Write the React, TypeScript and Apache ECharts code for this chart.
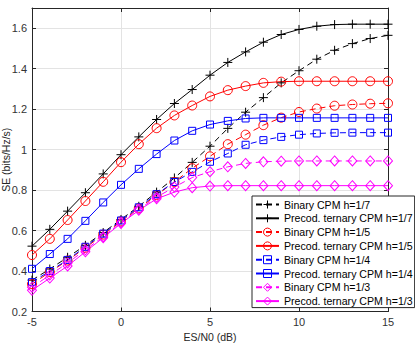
import { useEffect, useRef } from "react";
import * as echarts from "echarts";

// Es/N0 sweep in dB
const snr = [-5, -4, -3, -2, -1, 0, 1, 2, 3, 4, 5, 6, 7, 8, 9, 10, 11, 12, 13, 14, 15];

// Spectral efficiency (bits/Hz/s)
const binary17 = [0.355, 0.41, 0.468, 0.527, 0.59, 0.655, 0.72, 0.79, 0.86, 0.937, 1.017, 1.105, 1.185, 1.257, 1.33, 1.39, 1.447, 1.491, 1.524, 1.549, 1.565];
const precod17 = [0.523, 0.606, 0.696, 0.787, 0.88, 0.975, 1.063, 1.149, 1.228, 1.297, 1.368, 1.431, 1.483, 1.531, 1.569, 1.594, 1.61, 1.618, 1.62, 1.62, 1.62];
const binary15 = [0.335, 0.395, 0.452, 0.515, 0.58, 0.645, 0.71, 0.775, 0.84, 0.908, 0.967, 1.027, 1.074, 1.121, 1.158, 1.186, 1.203, 1.217, 1.223, 1.227, 1.229];
const precod15 = [0.479, 0.559, 0.652, 0.746, 0.841, 0.938, 1.027, 1.106, 1.169, 1.218, 1.263, 1.294, 1.314, 1.33, 1.336, 1.338, 1.338, 1.338, 1.338, 1.338, 1.338];
const binary14 = [0.345, 0.4, 0.455, 0.52, 0.585, 0.65, 0.715, 0.78, 0.84, 0.89, 0.94, 0.981, 1.024, 1.047, 1.063, 1.074, 1.08, 1.083, 1.084, 1.084, 1.084];
const precod14 = [0.411, 0.484, 0.559, 0.648, 0.739, 0.826, 0.905, 0.978, 1.045, 1.093, 1.124, 1.142, 1.154, 1.157, 1.157, 1.157, 1.157, 1.157, 1.157, 1.157, 1.157];
const binary13 = [0.32, 0.38, 0.44, 0.505, 0.57, 0.64, 0.705, 0.765, 0.815, 0.862, 0.891, 0.915, 0.932, 0.94, 0.943, 0.944, 0.944, 0.944, 0.944, 0.944, 0.944];
const precod13 = [0.305, 0.365, 0.425, 0.495, 0.565, 0.635, 0.7, 0.757, 0.79, 0.812, 0.82, 0.822, 0.822, 0.822, 0.822, 0.822, 0.822, 0.822, 0.822, 0.822, 0.822];

const seriesNames = [
  "Binary CPM h=1/7",
  "Precod. ternary CPM h=1/7",
  "Binary CPM h=1/5",
  "Precod. ternary CPM h=1/5",
  "Binary CPM h=1/4",
  "Precod. ternary CPM h=1/4",
  "Binary CPM h=1/3",
  "Precod. ternary CPM h=1/3",
];

const FONT = "'Liberation Sans', Arial, sans-serif";
const PLUS = "path://M5,0L5,10M0,5L10,5";

function makeSeries(name: string, ys: number[], color: string, symbol: string, size: number | number[], dashed: boolean) {
  return {
    name,
    type: "line",
    data: snr.map((x, i) => [x, ys[i]]),
    symbol,
    symbolSize: size,
    showAllSymbol: true,
    lineStyle: { color, width: 1, type: dashed ? [6, 4] : "solid" },
    itemStyle: { color: "transparent", borderColor: color, borderWidth: 1 },
    emphasis: { disabled: true },
  };
}

export default function App() {
  const ref = useRef<HTMLDivElement>(null);

  useEffect(() => {
    document.body.style.margin = "0";
    const chart = echarts.init(ref.current!, undefined, { renderer: "svg" });
    const axisColor = "#262626";
    const gridColor = "#e3e3e3";
    chart.setOption({
      animation: false,
      backgroundColor: "#ffffff",
      textStyle: { fontFamily: FONT },
      grid: {
        left: 32,
        right: 27,
        top: 8,
        bottom: 33.5,
        show: false,
        containLabel: false,
        outerBoundsMode: "none",
      },
      xAxis: [
        {
          type: "value",
          min: -5,
          max: 15,
          interval: 5,
          name: "ES/N0 (dB)",
          nameLocation: "middle",
          nameGap: 20,
          nameMoveOverlap: false,
          nameTextStyle: { fontSize: 10.5, color: "#262626", fontFamily: FONT },
          axisLine: { show: true, lineStyle: { color: axisColor, width: 1 } },
          axisTick: { show: true, inside: true, length: 4, lineStyle: { color: axisColor } },
          axisLabel: { fontSize: 11, color: "#333", margin: 5, fontFamily: FONT },
          splitLine: { show: true, lineStyle: { color: gridColor, width: 1 } },
        },
        {
          type: "value",
          position: "top",
          min: -5,
          max: 15,
          interval: 5,
          axisLine: { show: true, onZero: false, lineStyle: { color: axisColor, width: 1 } },
          axisTick: { show: true, inside: true, length: 4, lineStyle: { color: axisColor } },
          axisLabel: { show: false },
          splitLine: { show: false },
        },
      ],
      yAxis: [
        {
          type: "value",
          min: 0.2,
          max: 1.7,
          interval: 0.2,
          name: "SE (bits/Hz/s)",
          nameLocation: "middle",
          nameGap: 21,
          nameMoveOverlap: false,
          nameTextStyle: { fontSize: 10.5, color: "#262626", fontFamily: FONT },
          axisLine: { show: true, onZero: false, lineStyle: { color: axisColor, width: 1 } },
          axisTick: { show: true, inside: true, length: 4, lineStyle: { color: axisColor } },
          axisLabel: {
            fontSize: 11,
            color: "#333",
            margin: 5,
            fontFamily: FONT,
            formatter: (v: number) => (Math.abs(v - 1.7) < 1e-6 ? "" : String(Math.round(v * 10) / 10)),
          },
          splitLine: { show: true, lineStyle: { color: gridColor, width: 1 } },
        },
        {
          type: "value",
          position: "right",
          min: 0.2,
          max: 1.7,
          interval: 0.2,
          axisLine: { show: true, onZero: false, lineStyle: { color: axisColor, width: 1 } },
          axisTick: { show: true, inside: true, length: 4, lineStyle: { color: axisColor } },
          axisLabel: { show: false },
          splitLine: { show: false },
        },
      ],
      legend: {
        orient: "vertical",
        left: 252,
        top: 196,
        padding: [3, 2, 1, 3],
        itemWidth: 23,
        itemHeight: 10,
        itemGap: 2.8,
        backgroundColor: "#ffffff",
        borderColor: axisColor,
        borderWidth: 1,
        borderRadius: 0,
        selectedMode: false,
        data: seriesNames,
        itemStyle: { borderWidth: 1 },
        textStyle: { fontSize: 10.6, lineHeight: 10, color: "#000", fontFamily: FONT },
      },
      series: [
        makeSeries(seriesNames[0], binary17, "#000000", PLUS, 9, true),
        makeSeries(seriesNames[1], precod17, "#000000", PLUS, 9, false),
        makeSeries(seriesNames[2], binary15, "#ff0000", "circle", 9, true),
        makeSeries(seriesNames[3], precod15, "#ff0000", "circle", 9, false),
        makeSeries(seriesNames[4], binary14, "#0000ff", "rect", 7, true),
        makeSeries(seriesNames[5], precod14, "#0000ff", "rect", 7, false),
        makeSeries(seriesNames[6], binary13, "#ff00ff", "diamond", [9, 10], true),
        makeSeries(seriesNames[7], precod13, "#ff00ff", "diamond", [9, 10], false),
      ],
    });
    return () => chart.dispose();
  }, []);

  return <div ref={ref} style={{ width: 415, height: 345 }} />;
}
